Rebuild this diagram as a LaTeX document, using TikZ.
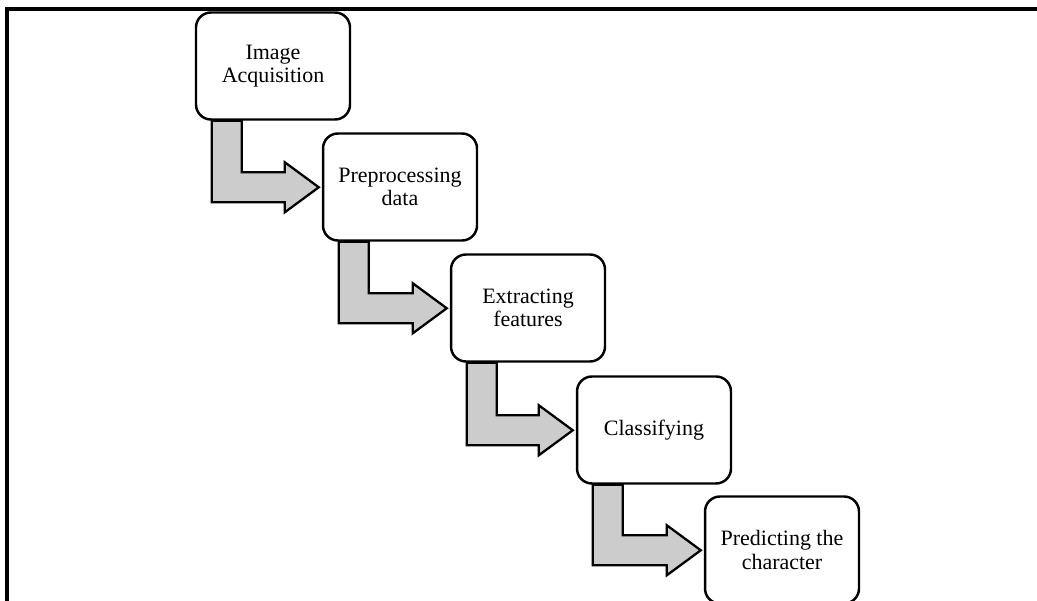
\documentclass[tikz,border=0pt]{standalone}
\usepackage{fontspec}
\setmainfont{Liberation Serif}
\usepackage{tikz}
\usetikzlibrary{calc,backgrounds}
\definecolor{ink}{HTML}{000000}
\definecolor{flowfill}{HTML}{CCCCCC}
\tikzset{
  every picture/.style={line join=miter},
  stage/.style={draw=ink, fill=white, rounded corners=8.5pt, align=center,
    line width=1.4pt, minimum width=3.08cm, minimum height=2.14cm,
    font=\fontsize{12.5}{13.2}\selectfont, inner sep=2pt},
  flow/.style={draw=ink, fill=flowfill, line width=1.3pt},
  frame/.style={draw=ink, line width=1.9pt},
}
\begin{document}
\begin{tikzpicture}[x=0.02cm, y=-0.02cm]
  \useasboundingbox (0,0) rectangle (1037,601);
  \clip (0,0) rectangle (1037,601);
  % ---------------- outer frame ----------------
  \draw[frame] (7,9) rectangle (1080,660);

  % ---------------- stages ----------------
  \node[stage] (s1) at (273,66) {Image\\ Acquisition};
  \node[stage] (s2) at (400,187) {Preprocessing\\ data};
  \node[stage] (s3) at (528,308) {Extracting\\ features};
  \node[stage] (s4) at (654,430) {Classifying};
  \node[stage] (s5) at (782,550) {Predicting the\\ character};

  % ---------------- bent arrows ----------------
  \begin{scope}[on background layer]
    \foreach \a/\b in {s1/s2,s2/s3,s3/s4,s4/s5} {
      \coordinate (p) at (\a.south west);
      \coordinate (q) at (\b.north west);
      \draw[flow] ($(p)+(17,0)$) -- ($(p|-q)+(17,70)$) -- ($(q)+(-37,70)$)
        -- ($(q)+(-37,80)$) -- ($(q)+(-3,55)$) -- ($(q)+(-37,30)$)
        -- ($(q)+(-37,40)$) -- ($(p|-q)+(47,40)$) -- ($(p)+(47,0)$) -- cycle;
    }
  \end{scope}
\end{tikzpicture}
\end{document}
